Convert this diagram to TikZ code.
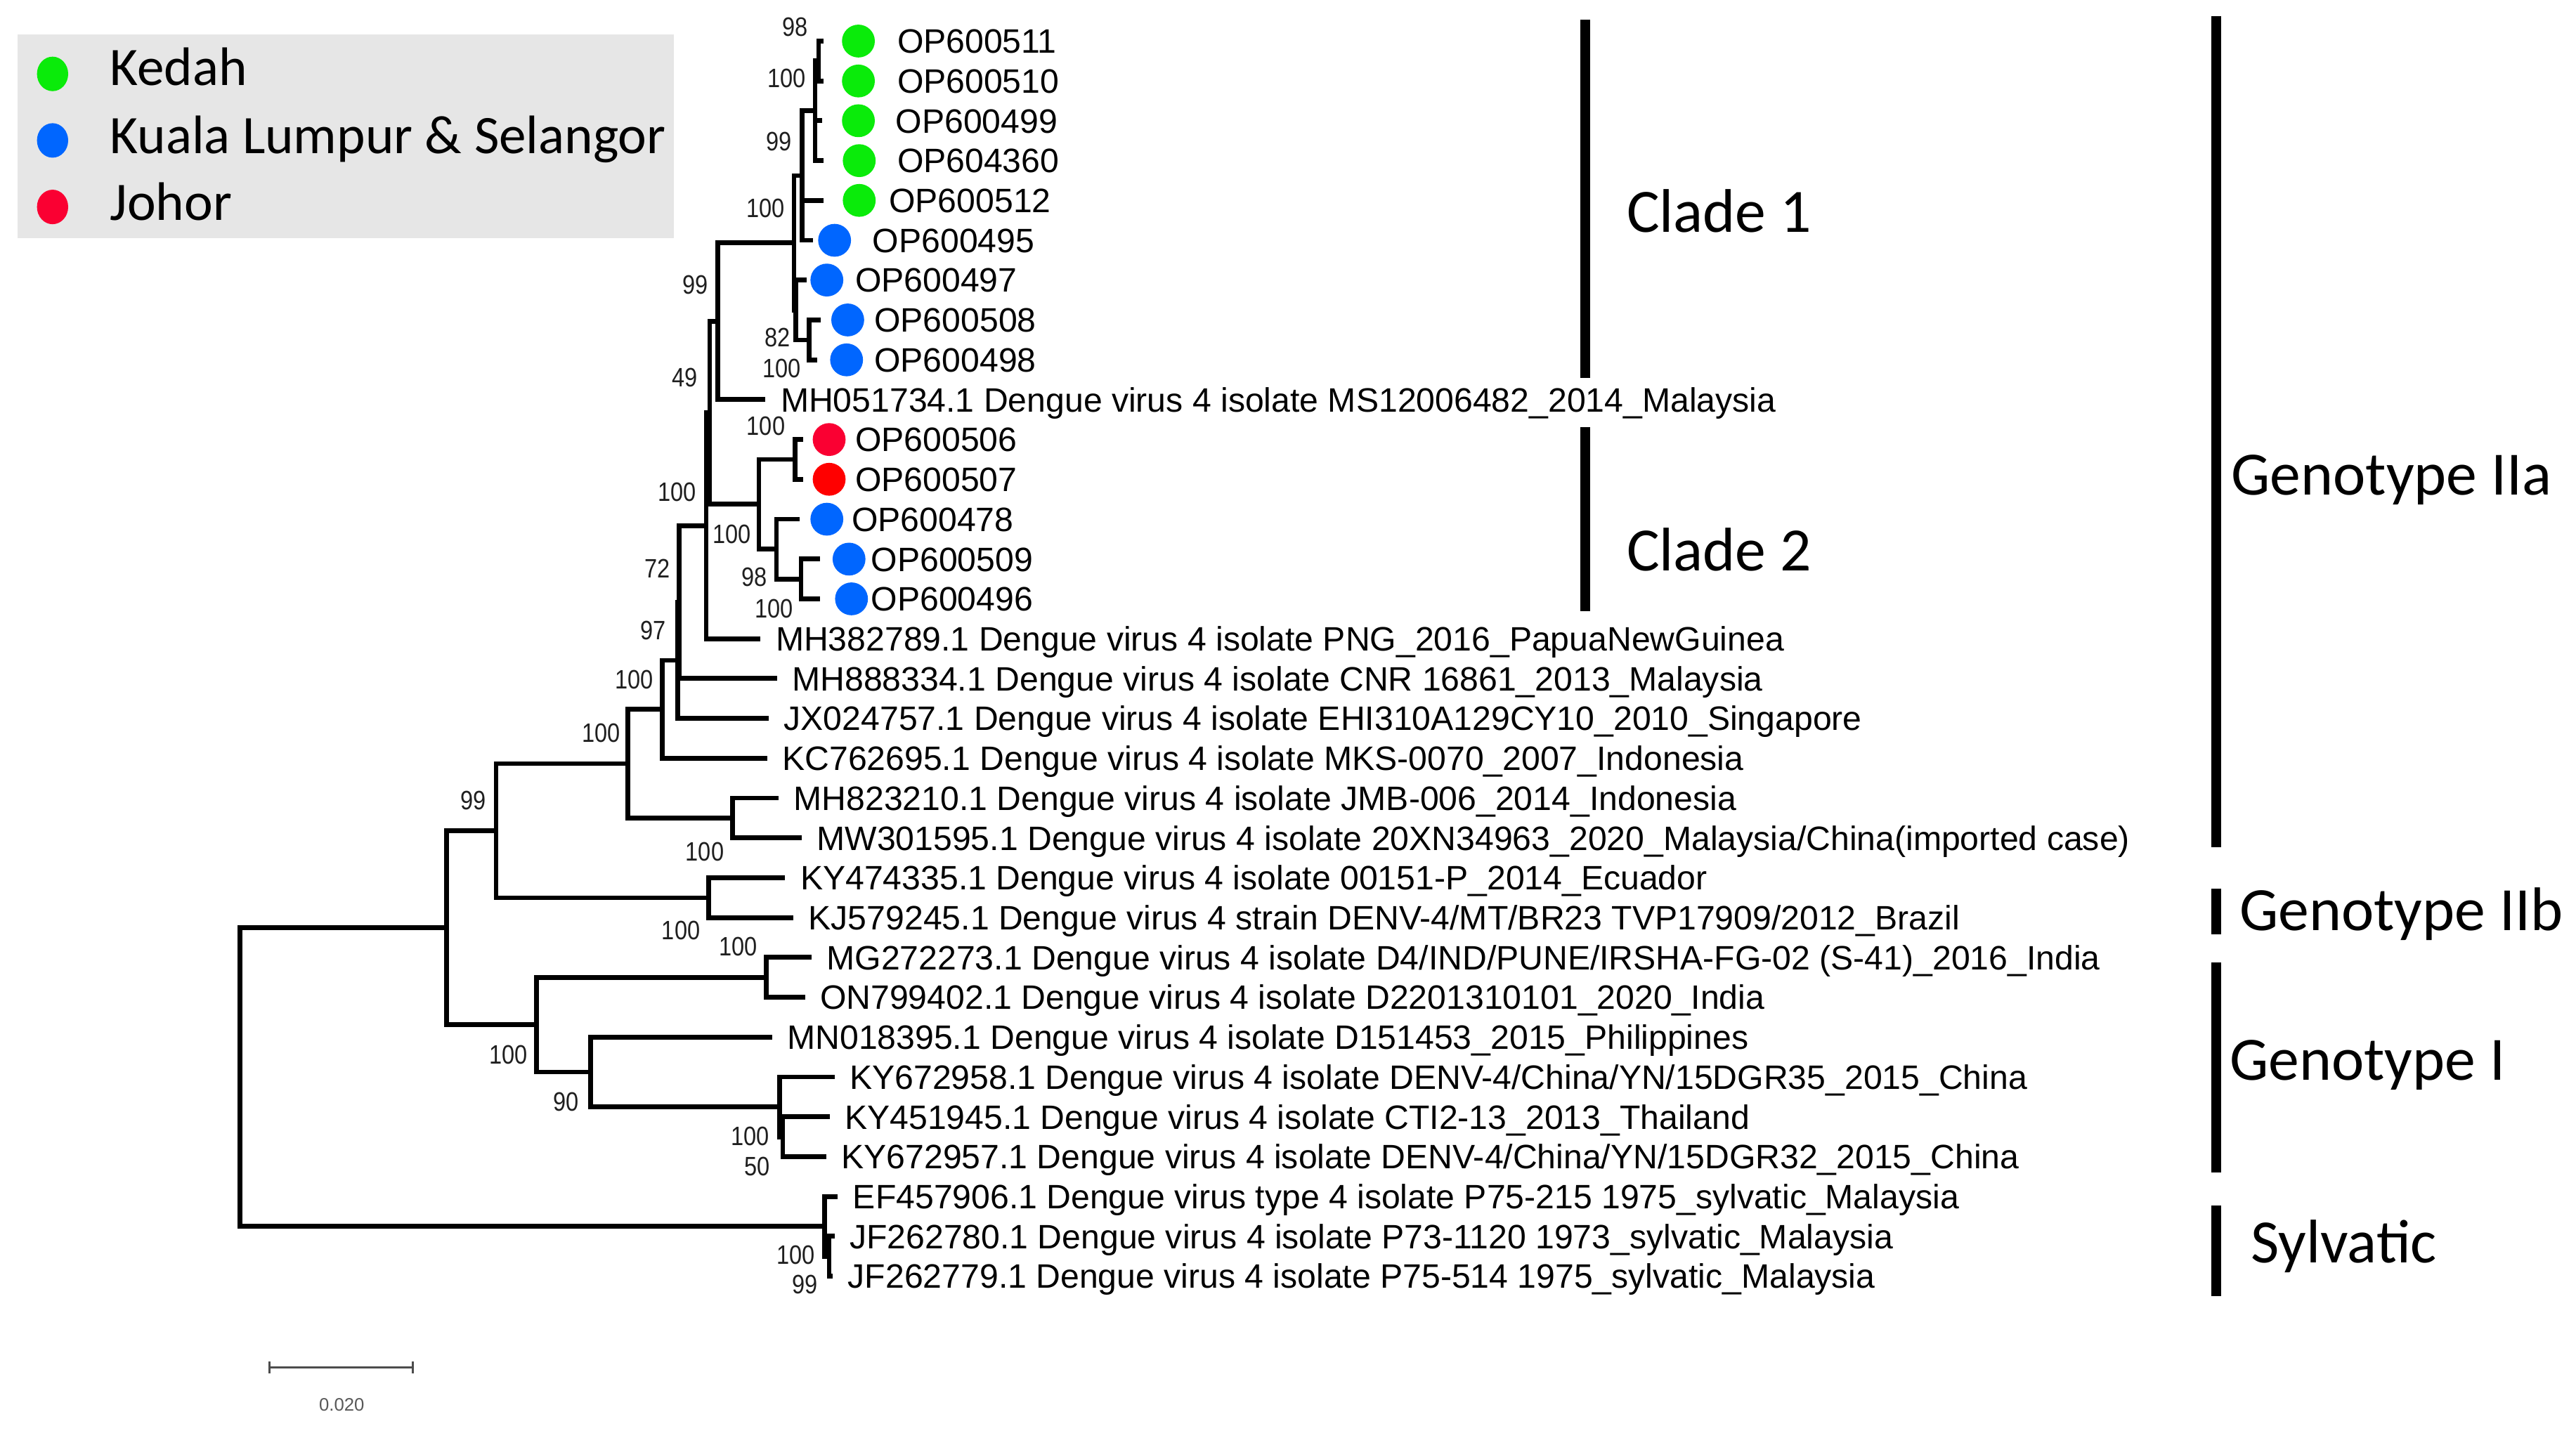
\documentclass[tikz,border=0pt]{standalone}
\usepackage{fontspec}
\setmainfont{Liberation Sans}
\newfontfamily\calfont{Carlito}
\newfontfamily\bsfont[FakeStretch=0.86]{Liberation Sans}
\usetikzlibrary{shapes.geometric}
\definecolor{kedah}{RGB}{10,235,10}
\definecolor{kls}{RGB}{0,102,255}
\definecolor{johor}{RGB}{250,0,50}
\definecolor{johorb}{RGB}{255,0,0}
\definecolor{legbg}{RGB}{230,230,230}
\begin{document}
\begin{tikzpicture}[x=1pt,y=-1pt,
  br/.style={line width=2.9pt, line cap=rect, line join=miter},
  lbl/.style={anchor=base west, inner sep=0pt, font=\fontsize{20.6}{24}\selectfont},
  bs/.style={inner sep=0pt, font=\bsfont\fontsize{16.2}{18}\selectfont, text=black!88},
  tipdot/.style={circle, inner sep=0pt, minimum size=20pt},
  legdot/.style={ellipse, inner sep=0pt, minimum width=19pt, minimum height=21pt},
  grpbar/.style={line width=5.8pt},
  grp/.style={anchor=base west, inner sep=0pt, font=\calfont\fontsize{37.5}{44}\selectfont},
  leg/.style={anchor=base west, inner sep=0pt, font=\calfont\fontsize{33}{40}\selectfont}]
\useasboundingbox (0,0) rectangle (1568,871);
\fill[white] (0,0) rectangle (1568,871);

% legend
\node[fill=legbg, minimum width=399.3pt, minimum height=123.9pt, inner sep=0pt, anchor=north west] (legbox) at (10.7,20.7) {};
\node[legdot, fill=kedah] (lg1) at (32,45) {};
\node[legdot, fill=kls] (lg2) at (32,85.5) {};
\node[legdot, fill=johor] (lg3) at (32,126) {};
\node[leg] (lt1) at (66.8,52) {Kedah};
\node[leg] (lt2) at (66.8,93.3) {Kuala Lumpur \& Selangor};
\node[leg] (lt3) at (66.8,134) {Johor};

% leaves (tip ends)
\coordinate (L0) at (499.7,25.0);
\coordinate (L1) at (499.7,49.3);
\coordinate (L2) at (499.0,73.5);
\coordinate (L3) at (499.7,97.8);
\coordinate (L4) at (499.7,122.0);
\coordinate (L5) at (493.3,146.3);
\coordinate (L6) at (489.7,170.5);
\coordinate (L7) at (498.3,194.8);
\coordinate (L8) at (496.1,219.1);
\coordinate (L9) at (464.5,243.3);
\coordinate (L10) at (487.6,267.6);
\coordinate (L11) at (487.6,291.8);
\coordinate (L12) at (485.4,316.1);
\coordinate (L13) at (497.5,340.4);
\coordinate (L14) at (497.5,364.6);
\coordinate (L15) at (461.5,388.9);
\coordinate (L16) at (471.5,413.1);
\coordinate (L17) at (466.5,437.4);
\coordinate (L18) at (465.5,461.7);
\coordinate (L19) at (472.5,485.9);
\coordinate (L20) at (486.5,510.2);
\coordinate (L21) at (476.5,534.4);
\coordinate (L22) at (481.5,558.7);
\coordinate (L23) at (492.5,582.9);
\coordinate (L24) at (488.5,607.2);
\coordinate (L25) at (468.5,631.5);
\coordinate (L26) at (506.5,655.7);
\coordinate (L27) at (503.5,680.0);
\coordinate (L28) at (501.5,704.2);
\coordinate (L29) at (508.5,728.5);
\coordinate (L30) at (506.5,752.7);
\coordinate (L31) at (505.5,777.0);

% internal nodes
\coordinate (nA98) at (498.3,37.1);
\coordinate (nA100) at (496.1,67.5);
\coordinate (nB99) at (488.3,106.9);
\coordinate (nC100) at (483.3,147.9);
\coordinate (nD) at (484.5,188.8);
\coordinate (nE82) at (492.6,207.0);
\coordinate (nF99) at (437.0,195.6);
\coordinate (nJ1) at (484.0,279.7);
\coordinate (nJ3) at (487.6,352.5);
\coordinate (nJ2) at (472.6,334.3);
\coordinate (nJ) at (461.9,307.0);
\coordinate (nG49) at (432.0,251.3);
\coordinate (nH100) at (429.8,320.1);
\coordinate (nI72) at (413.4,366.6);
\coordinate (nK97) at (412.5,402.0);
\coordinate (nM100) at (403.0,431.8);
\coordinate (nN100) at (445.8,498.0);
\coordinate (nO100) at (382.0,464.9);
\coordinate (nP100) at (431.5,546.6);
\coordinate (nQ99) at (302.0,505.7);
\coordinate (nR100) at (466.3,595.0);
\coordinate (nS50) at (476.5,692.1);
\coordinate (nT100) at (474.6,673.9);
\coordinate (nU90) at (359.6,652.7);
\coordinate (nV100) at (326.7,623.9);
\coordinate (nW) at (271.9,564.8);
\coordinate (nX99) at (504.7,764.9);
\coordinate (nY100) at (502.0,746.7);
\coordinate (root) at (146.0,655.8);

\draw[br]
 (nA98) |- (L0) (nA98) |- (L1)
 (nA100) |- (nA98) (nA100) |- (L2) (nA100) |- (L3)
 (nB99) |- (nA100) (nB99) |- (L4) (nB99) |- (L5)
 (nC100) |- (nB99) (nC100) |- (nD)
 (nD) |- (L6) (nD) |- (nE82)
 (nE82) |- (L7) (nE82) |- (L8)
 (nF99) |- (nC100) (nF99) |- (L9)
 (nJ1) |- (L10) (nJ1) |- (L11)
 (nJ3) |- (L13) (nJ3) |- (L14)
 (nJ2) |- (L12) (nJ2) |- (nJ3)
 (nJ) |- (nJ1) (nJ) |- (nJ2)
 (nG49) |- (nF99) (nG49) |- (nJ)
 (nH100) |- (nG49) (nH100) |- (L15)
 (nI72) |- (nH100) (nI72) |- (L16)
 (nK97) |- (nI72) (nK97) |- (L17)
 (nM100) |- (nK97) (nM100) |- (L18)
 (nN100) |- (L19) (nN100) |- (L20)
 (nO100) |- (nM100) (nO100) |- (nN100)
 (nP100) |- (L21) (nP100) |- (L22)
 (nQ99) |- (nO100) (nQ99) |- (nP100)
 (nR100) |- (L23) (nR100) |- (L24)
 (nS50) |- (L27) (nS50) |- (L28)
 (nT100) |- (L26) (nT100) |- (nS50)
 (nU90) |- (L25) (nU90) |- (nT100)
 (nV100) |- (nR100) (nV100) |- (nU90)
 (nW) |- (nQ99) (nW) |- (nV100)
 (nX99) |- (L30) (nX99) |- (L31)
 (nY100) |- (L29) (nY100) |- (nX99)
 (root) |- (nW) (root) |- (nY100);

% coloured dots
\node[tipdot, fill=kedah] (d0) at (522.5,25.0) {};
\node[tipdot, fill=kedah] (d1) at (522.5,49.3) {};
\node[tipdot, fill=kedah] (d2) at (522.5,73.5) {};
\node[tipdot, fill=kedah] (d3) at (523.0,97.8) {};
\node[tipdot, fill=kedah] (d4) at (523.0,122.0) {};
\node[tipdot, fill=kls] (d5) at (508.0,146.3) {};
\node[tipdot, fill=kls] (d6) at (503.3,170.5) {};
\node[tipdot, fill=kls] (d7) at (516.0,194.8) {};
\node[tipdot, fill=kls] (d8) at (515.3,219.1) {};
\node[tipdot, fill=johor] (d10) at (504.7,267.6) {};
\node[tipdot, fill=johorb] (d11) at (504.7,291.8) {};
\node[tipdot, fill=kls] (d12) at (503.3,316.1) {};
\node[tipdot, fill=kls] (d13) at (516.8,340.4) {};
\node[tipdot, fill=kls] (d14) at (518.3,364.6) {};

% leaf labels
\node[lbl] (t0) at (546,32.4) {OP600511};
\node[lbl] (t1) at (546,56.7) {OP600510};
\node[lbl] (t2) at (545,80.9) {OP600499};
\node[lbl] (t3) at (546,105.2) {OP604360};
\node[lbl] (t4) at (541,129.4) {OP600512};
\node[lbl] (t5) at (531,153.7) {OP600495};
\node[lbl] (t6) at (520.4,177.9) {OP600497};
\node[lbl] (t7) at (532,202.2) {OP600508};
\node[lbl] (t8) at (532,226.5) {OP600498};
\node[lbl] (t9) at (475,250.7) {MH051734.1 Dengue virus 4 isolate MS12006482\_2014\_Malaysia};
\node[lbl] (t10) at (520.4,275.0) {OP600506};
\node[lbl] (t11) at (520.4,299.2) {OP600507};
\node[lbl] (t12) at (518.3,323.5) {OP600478};
\node[lbl] (t13) at (530,347.8) {OP600509};
\node[lbl] (t14) at (530,372.0) {OP600496};
\node[lbl] (t15) at (472,396.3) {MH382789.1 Dengue virus 4 isolate PNG\_2016\_PapuaNewGuinea};
\node[lbl] (t16) at (482,420.5) {MH888334.1 Dengue virus 4 isolate CNR 16861\_2013\_Malaysia};
\node[lbl] (t17) at (477,444.8) {JX024757.1 Dengue virus 4 isolate EHI310A129CY10\_2010\_Singapore};
\node[lbl] (t18) at (476,469.1) {KC762695.1 Dengue virus 4 isolate MKS-0070\_2007\_Indonesia};
\node[lbl] (t19) at (483,493.3) {MH823210.1 Dengue virus 4 isolate JMB-006\_2014\_Indonesia};
\node[lbl] (t20) at (497,517.6) {MW301595.1 Dengue virus 4 isolate 20XN34963\_2020\_Malaysia/China(imported case)};
\node[lbl] (t21) at (487,541.8) {KY474335.1 Dengue virus 4 isolate 00151-P\_2014\_Ecuador};
\node[lbl] (t22) at (492,566.1) {KJ579245.1 Dengue virus 4 strain DENV-4/MT/BR23 TVP17909/2012\_Brazil};
\node[lbl] (t23) at (503,590.3) {MG272273.1 Dengue virus 4 isolate D4/IND/PUNE/IRSHA-FG-02 (S-41)\_2016\_India};
\node[lbl] (t24) at (499,614.6) {ON799402.1 Dengue virus 4 isolate D2201310101\_2020\_India};
\node[lbl] (t25) at (479,638.9) {MN018395.1 Dengue virus 4 isolate D151453\_2015\_Philippines};
\node[lbl] (t26) at (517,663.1) {KY672958.1 Dengue virus 4 isolate DENV-4/China/YN/15DGR35\_2015\_China};
\node[lbl] (t27) at (514,687.4) {KY451945.1 Dengue virus 4 isolate CTI2-13\_2013\_Thailand};
\node[lbl] (t28) at (512,711.6) {KY672957.1 Dengue virus 4 isolate DENV-4/China/YN/15DGR32\_2015\_China};
\node[lbl] (t29) at (519,735.9) {EF457906.1 Dengue virus type 4 isolate P75-215 1975\_sylvatic\_Malaysia};
\node[lbl] (t30) at (517,760.1) {JF262780.1 Dengue virus 4 isolate P73-1120 1973\_sylvatic\_Malaysia};
\node[lbl] (t31) at (516,784.4) {JF262779.1 Dengue virus 4 isolate P75-514 1975\_sylvatic\_Malaysia};

% bootstrap values
\node[bs] (b1) at (484,16.4) {98};
\node[bs] (b2) at (479,47.5) {100};
\node[bs] (b3) at (474,86) {99};
\node[bs] (b4) at (466,127) {100};
\node[bs] (b5) at (423.4,173.5) {99};
\node[bs] (b6) at (473.3,205.4) {82};
\node[bs] (b7) at (476,224.5) {100};
\node[bs] (b8) at (417,230) {49};
\node[bs] (b9) at (466.2,259.5) {100};
\node[bs] (b10) at (412,299.4) {100};
\node[bs] (b11) at (445.5,325.1) {100};
\node[bs] (b12) at (400,346) {72};
\node[bs] (b13) at (459,351.5) {98};
\node[bs] (b14) at (471.2,370.7) {100};
\node[bs] (b15) at (397.5,384) {97};
\node[bs] (b16) at (386,414) {100};
\node[bs] (b17) at (366,446.5) {100};
\node[bs] (b18) at (288,487.5) {99};
\node[bs] (b19) at (429,518.5) {100};
\node[bs] (b20) at (414.5,566.5) {100};
\node[bs] (b21) at (449.5,576.5) {100};
\node[bs] (b22) at (309.5,642) {100};
\node[bs] (b23) at (344.5,671) {90};
\node[bs] (b24) at (456.5,692) {100};
\node[bs] (b25) at (461,710) {50};
\node[bs] (b26) at (484.5,764) {100};
\node[bs] (b27) at (490,782) {99};

% clade and genotype bars
\coordinate (c1a) at (965,12);   \coordinate (c1b) at (965,230);
\coordinate (c2a) at (965,260);  \coordinate (c2b) at (965,372);
\coordinate (g1a) at (1349,10);  \coordinate (g1b) at (1349,516);
\coordinate (g2a) at (1349,541); \coordinate (g2b) at (1349,569);
\coordinate (g3a) at (1349,586); \coordinate (g3b) at (1349,714);
\coordinate (g4a) at (1349,734); \coordinate (g4b) at (1349,789);
\draw[grpbar] (c1a) -- (c1b);
\draw[grpbar] (c2a) -- (c2b);
\draw[grpbar] (g1a) -- (g1b);
\draw[grpbar] (g2a) -- (g2b);
\draw[grpbar] (g3a) -- (g3b);
\draw[grpbar] (g4a) -- (g4b);
\node[grp] (cl1) at (990,141.5) {Clade 1};
\node[grp] (cl2) at (990,347.5) {Clade 2};
\node[grp] (gt1) at (1358,301.5) {Genotype IIa};
\node[grp] (gt2) at (1363,566.5) {Genotype IIb};
\node[grp] (gt3) at (1357,657.5) {Genotype I};
\node[grp] (gt4) at (1370,769) {Sylvatic};

% scale bar
\coordinate (sb1) at (164,832.6);
\coordinate (sb2) at (251.2,832.6);
\draw[line width=1.5pt, black!70] (sb1) -- (sb2);
\draw[line width=1.5pt, black!70] ([yshift=-3.5pt]sb1) -- ([yshift=3.5pt]sb1);
\draw[line width=1.5pt, black!70] ([yshift=-3.5pt]sb2) -- ([yshift=3.5pt]sb2);
\node[inner sep=0pt, font=\fontsize{11}{13}\selectfont, text=black!65] (sbl) at (208,855.4) {0.020};
\end{tikzpicture}
\end{document}
